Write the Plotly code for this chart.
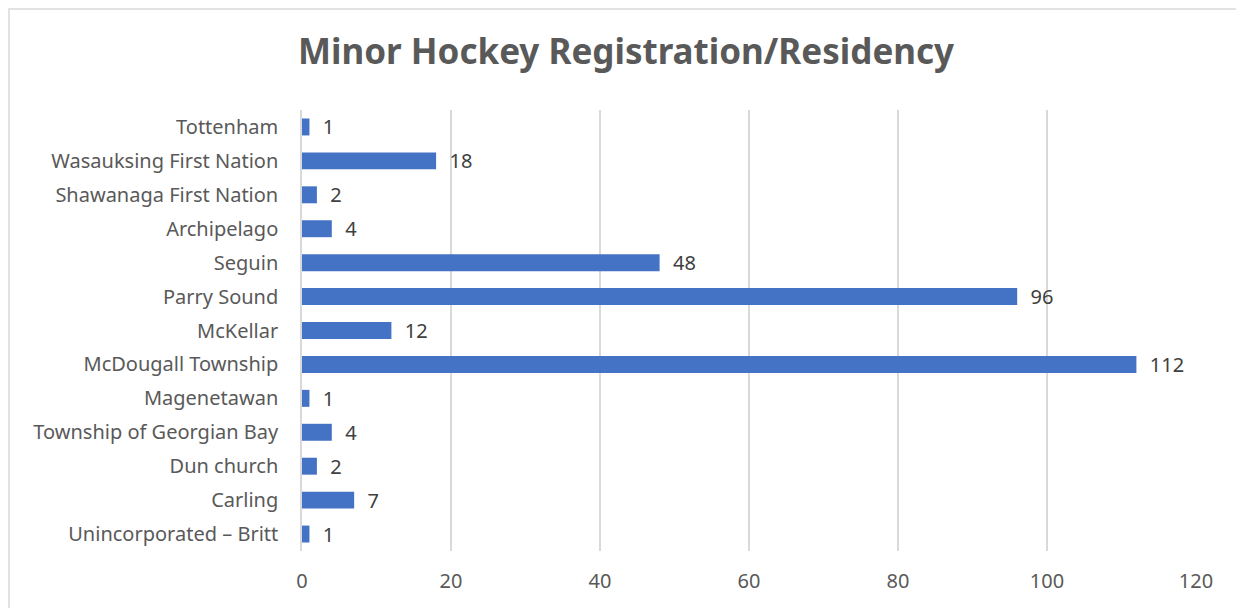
import plotly.graph_objects as go

categories = ["Unincorporated – Britt", "Carling", "Dun church", "Township of Georgian Bay",
              "Magenetawan", "McDougall Township", "McKellar", "Parry Sound", "Seguin",
              "Archipelago", "Shawanaga First Nation", "Wasauksing First Nation", "Tottenham"]
values = [1, 7, 2, 4, 1, 112, 12, 96, 48, 4, 2, 18, 1]
x_ticks = [0, 20, 40, 60, 80, 100, 120]

OFF = 8  # default page margin of the browser
W, H = 1244 - OFF, 608 - OFF
L, T = 302 - OFF, 110 - OFF
pw, ph = 894, 441
R, B = W - L - pw, H - T - ph

fig = go.Figure(go.Bar(
    x=values, y=categories, orientation="h",
    marker=dict(color="#4472C4", line=dict(width=0)),
    text=["  " + str(v) for v in values], textposition="outside",
    textfont=dict(family="Noto Sans", size=20, color="#404040"),
    constraintext="none",
    cliponaxis=False, width=0.5,
))

fig.update_layout(
    width=W, height=H,
    margin=dict(l=L, r=R, t=T, b=B),
    paper_bgcolor="white", plot_bgcolor="white",
    title=dict(text="<b>Minor Hockey Registration/Residency</b>", x=0.5, xanchor="center",
               y=1 - (52 - OFF) / H, yanchor="middle",
               font=dict(family="Noto Sans", size=35, color="#595959")),
    showlegend=False,
    xaxis=dict(range=[0, 120], tickvals=x_ticks, showgrid=True, gridcolor="#D9D9D9", gridwidth=1.5,
               zeroline=False, showline=False, ticks="", ticklabelstandoff=16,
               tickfont=dict(family="Noto Sans", size=20, color="#595959")),
    yaxis=dict(showline=True, linecolor="#D9D9D9", linewidth=1.5, ticks="", showgrid=False,
               ticklabelstandoff=18,
               tickfont=dict(family="Noto Sans", size=20, color="#595959")),
    shapes=[dict(type="rect", xref="paper", yref="paper",
                 x0=(1 - L) / pw, x1=(1243 - OFF - L) / pw,
                 y0=-0.3, y1=1 + (T - 1) / ph,
                 line=dict(color="#D9D9D9", width=1.5), fillcolor="rgba(0,0,0,0)", layer="below")],
)

fig.write_html("out.html")
